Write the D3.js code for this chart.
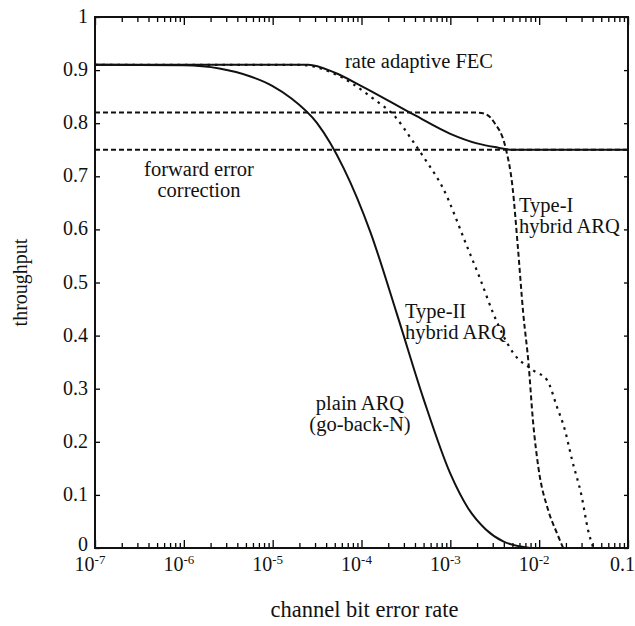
<!DOCTYPE html>
<html>
<head>
<meta charset="utf-8">
<script src="https://cdn.jsdelivr.net/npm/d3@7"></script>
<style>
  body { margin: 0; background: #fff; }
  text { font-family: "Liberation Serif", "Times New Roman", serif; fill: #111; }
</style>
</head>
<body>
<div id="chart"></div>
<script>
// data: x values are log10(bit error rate), y = throughput
var plainARQ = [[-7,0.91],[-6,0.909],[-5.6,0.903],[-5.25,0.888],[-5.0,0.87],[-4.8,0.848],
  [-4.5,0.80],[-4.2,0.715],[-3.9,0.595],[-3.6,0.44],[-3.3,0.28],[-3.0,0.14],[-2.8,0.075],
  [-2.6,0.035],[-2.4,0.012],[-2.1,0.0]];
var rateAdaptive = [[-7,0.91],[-4.6,0.91],[-4.3,0.895],[-4.0,0.87],[-3.4,0.815],[-3.0,0.78],
  [-2.7,0.762],[-2.5,0.755],[-2.3,0.75],[-1,0.75]];
var typeII = [[-7,0.91],[-4.7,0.91],[-4.33,0.895],[-3.85,0.844],[-3.62,0.812],[-3.43,0.768],
  [-3.28,0.731],[-3.09,0.68],[-2.81,0.567],[-2.66,0.505],[-2.52,0.443],[-2.29,0.367],
  [-2.07,0.335],[-1.91,0.316],[-1.8,0.266],[-1.71,0.222],[-1.63,0.166],[-1.52,0.096],
  [-1.45,0.034],[-1.39,0.0]];
var typeI = [[-7,0.82],[-2.7,0.82],[-2.6,0.817],[-2.5,0.80],[-2.38,0.755],[-2.3,0.68],
  [-2.24,0.567],[-2.18,0.443],[-2.12,0.348],[-2.07,0.24],[-2.01,0.153],[-1.9,0.072],
  [-1.8,0.028],[-1.73,0.0]];
var fec = [[-7,0.75],[-1,0.75]];

var yTicks = [0,0.1,0.2,0.3,0.4,0.5,0.6,0.7,0.8,0.9,1];
var yTickLabels = ["0","0.1","0.2","0.3","0.4","0.5","0.6","0.7","0.8","0.9","1"];
var xTickExp = [-7,-6,-5,-4,-3,-2];

// dimensions
var margin = {top: 17, right: 7, bottom: 78, left: 95},
    width = 635 - margin.left - margin.right,
    height = 626 - margin.top - margin.bottom;

var x = d3.scaleLog().domain([1e-7, 1e-1]).range([0, width]);
var y = d3.scaleLinear().domain([0, 1]).range([height, 0]);

var svg = d3.select("#chart").append("svg")
    .attr("width", 635)
    .attr("height", 626)
  .append("g")
    .attr("transform", "translate(" + margin.left + "," + margin.top + ")");

var line = d3.line()
    .x(function(d) { return x(Math.pow(10, d[0])); })
    .y(function(d) { return y(d[1]); })
    .curve(d3.curveMonotoneX);

// log ticks, inward on top and bottom
var logTicks = x.ticks();
function isMajor(v) { return Math.abs(Math.log10(v) - Math.round(Math.log10(v))) < 1e-9; }

var xAxisBottom = svg.append("g")
    .attr("transform", "translate(0," + height + ")")
    .call(d3.axisBottom(x).tickValues(logTicks).tickSizeInner(-5).tickSizeOuter(0).tickFormat(""));
var xAxisTop = svg.append("g")
    .call(d3.axisTop(x).tickValues(logTicks).tickSizeInner(-5).tickSizeOuter(0).tickFormat(""));
[xAxisBottom, xAxisTop].forEach(function(g) {
  g.selectAll(".tick line")
    .attr("y2", function(d) { return (isMajor(d) ? 8 : 5) * (g === xAxisBottom ? -1 : 1); })
    .attr("stroke-width", 1.3);
  g.select(".domain").remove();
});

var yAxisLeft = svg.append("g")
    .call(d3.axisLeft(y).tickValues(yTicks).tickSizeInner(-5).tickSizeOuter(0).tickFormat(""));
var yAxisRight = svg.append("g")
    .attr("transform", "translate(" + width + ",0)")
    .call(d3.axisRight(y).tickValues(yTicks).tickSizeInner(-4).tickSizeOuter(0).tickFormat(""));
[yAxisLeft, yAxisRight].forEach(function(g) {
  g.select(".domain").remove();
  g.selectAll(".tick line").attr("stroke-width", 1.3);
});

// frame
svg.append("rect")
    .attr("width", width)
    .attr("height", height)
    .attr("fill", "none")
    .attr("stroke", "#111")
    .attr("stroke-width", 2);

// y tick labels
svg.selectAll(".ylab")
    .data(yTicks)
  .enter().append("text")
    .attr("class", "ylab")
    .attr("x", -7)
    .attr("y", function(d) { return y(d) + (d === 0 ? 3 : 6); })
    .attr("text-anchor", "end")
    .style("font-size", "20px")
    .text(function(d, i) { return yTickLabels[i]; });

// x tick labels
var xl = svg.selectAll(".xlab")
    .data(xTickExp)
  .enter().append("text")
    .attr("class", "xlab")
    .attr("x", function(d) { return x(Math.pow(10, d)) - 5; })
    .attr("y", height + 23)
    .attr("text-anchor", "middle")
    .style("font-size", "20px");
xl.append("tspan").text("10");
xl.append("tspan")
    .attr("dy", -7)
    .style("font-size", "13px")
    .text(function(d) { return "-" + (-d); });

svg.append("text")
    .attr("x", x(1e-1) - 18)
    .attr("y", height + 23)
    .attr("text-anchor", "start")
    .style("font-size", "20px")
    .text("0.1");

// curves
svg.append("path").datum(fec)
    .attr("fill", "none").attr("stroke", "#111").attr("stroke-width", 2)
    .attr("stroke-dasharray", "5,3")
    .attr("d", line);
svg.append("path").datum(typeI)
    .attr("fill", "none").attr("stroke", "#111").attr("stroke-width", 2)
    .attr("stroke-dasharray", "5,3")
    .attr("d", line);
svg.append("path").datum(typeII)
    .attr("fill", "none").attr("stroke", "#111").attr("stroke-width", 2.2)
    .attr("stroke-dasharray", "2.5,5")
    .attr("d", line);
svg.append("path").datum(rateAdaptive)
    .attr("fill", "none").attr("stroke", "#111").attr("stroke-width", 2)
    .attr("d", line);
svg.append("path").datum(plainARQ)
    .attr("fill", "none").attr("stroke", "#111").attr("stroke-width", 2)
    .attr("d", line);

// curve labels
function label(lines, px, py, anchor) {
  var t = svg.append("text")
      .attr("text-anchor", anchor)
      .style("font-size", "20.5px");
  lines.forEach(function(s, i) {
    t.append("tspan").attr("x", px).attr("y", py + i * 21).text(s);
  });
}
label(["rate adaptive FEC"], 250, 51, "start");
label(["forward error", "correction"], 104, 159, "middle");
label(["Type-I", "hybrid ARQ"], 424, 195, "start");
label(["Type-II", "hybrid ARQ"], 310, 301, "start");
label(["plain ARQ", "(go-back-N)"], 265, 393, "middle");

// axis titles
svg.append("text")
    .attr("x", width / 2 + 3)
    .attr("y", height + 69)
    .attr("text-anchor", "middle")
    .style("font-size", "22.5px")
    .text("channel bit error rate");

svg.append("text")
    .attr("transform", "translate(-68," + (height / 2) + ") rotate(-90)")
    .attr("text-anchor", "middle")
    .style("font-size", "20px")
    .text("throughput");
</script>
</body>
</html>
